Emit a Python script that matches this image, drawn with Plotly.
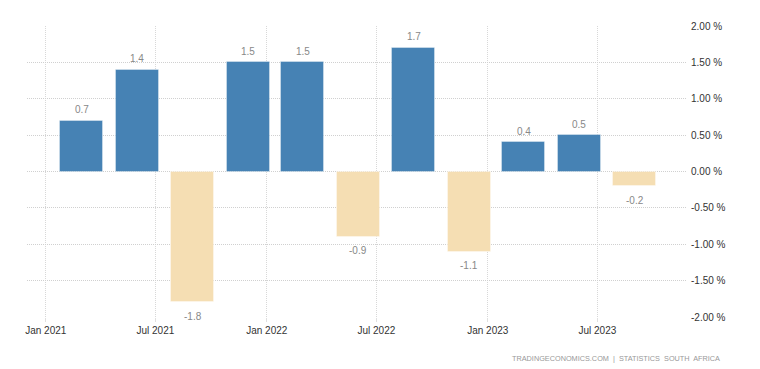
import plotly.graph_objects as go

dates = ["2021-03-01", "2021-06-01", "2021-09-01", "2021-12-01",
         "2022-03-01", "2022-06-01", "2022-09-01", "2022-12-01",
         "2023-03-01", "2023-06-01", "2023-09-01"]
values = [0.7, 1.4, -1.8, 1.5, 1.5, -0.9, 1.7, -1.1, 0.4, 0.5, -0.2]
y_ticks = [2.0, 1.5, 1.0, 0.5, 0.0, -0.5, -1.0, -1.5, -2.0]
y_tick_labels = [f"{v:.2f} %" for v in y_ticks]
source_text = "TRADINGECONOMICS.COM  |  STATISTICS  SOUTH  AFRICA"

colors = ["#4682B4" if v >= 0 else "#F5DEB3" for v in values]
labels = [f"{v:.1f}" for v in values]

FONT = "Liberation Sans, Arial, sans-serif"

fig = go.Figure(go.Bar(
    x=dates, y=values,
    width=71 * 86400000,
    marker=dict(color=colors, line=dict(color="rgba(255,255,255,0.35)", width=1)),
    hoverinfo="skip",
))

annotations = []
for d, v, t in zip(dates, values, labels):
    annotations.append(dict(
        x=d, y=v, xref="x", yref="y", text=t, showarrow=False,
        yanchor="middle", xanchor="center", yshift=11 if v >= 0 else -14,
        font=dict(family=FONT, size=10, color="#888888"),
    ))
annotations.append(dict(
    text=source_text, xref="paper", yref="paper",
    x=1.0 + 35 / 660, y=-0.142, xanchor="right", yanchor="middle",
    showarrow=False, font=dict(family=FONT, size=7.3, color="#999999"),
))

fig.update_layout(
    width=752, height=361,
    margin=dict(l=19, r=73, t=18, b=52),
    paper_bgcolor="white", plot_bgcolor="white",
    showlegend=False,
    font=dict(family=FONT, size=10, color="#333333"),
    xaxis=dict(
        type="date",
        range=["2020-12-01", "2023-11-26"],
        tick0="2021-01-01", dtick="M6", tickformat="%b %Y",
        showgrid=True, gridcolor="#d8d8d8", griddash="1px,1px", gridwidth=1,
        showline=False, zeroline=False,
        ticks="outside", ticklen=4, tickcolor="#e0e0e0", tickwidth=1,
        tickfont=dict(size=10, color="#333333"),
    ),
    yaxis=dict(
        side="right", range=[-2.0, 2.0],
        tickmode="array", tickvals=y_ticks, ticktext=y_tick_labels,
        showgrid=True, gridcolor="#d0d0d0", griddash="1px,1px", gridwidth=1,
        zeroline=False, showline=False, ticks="",
        ticklabelstandoff=3,
        tickfont=dict(size=10, color="#333333"),
    ),
    bargap=0,
    annotations=annotations,
)

fig.write_html("out.html")
